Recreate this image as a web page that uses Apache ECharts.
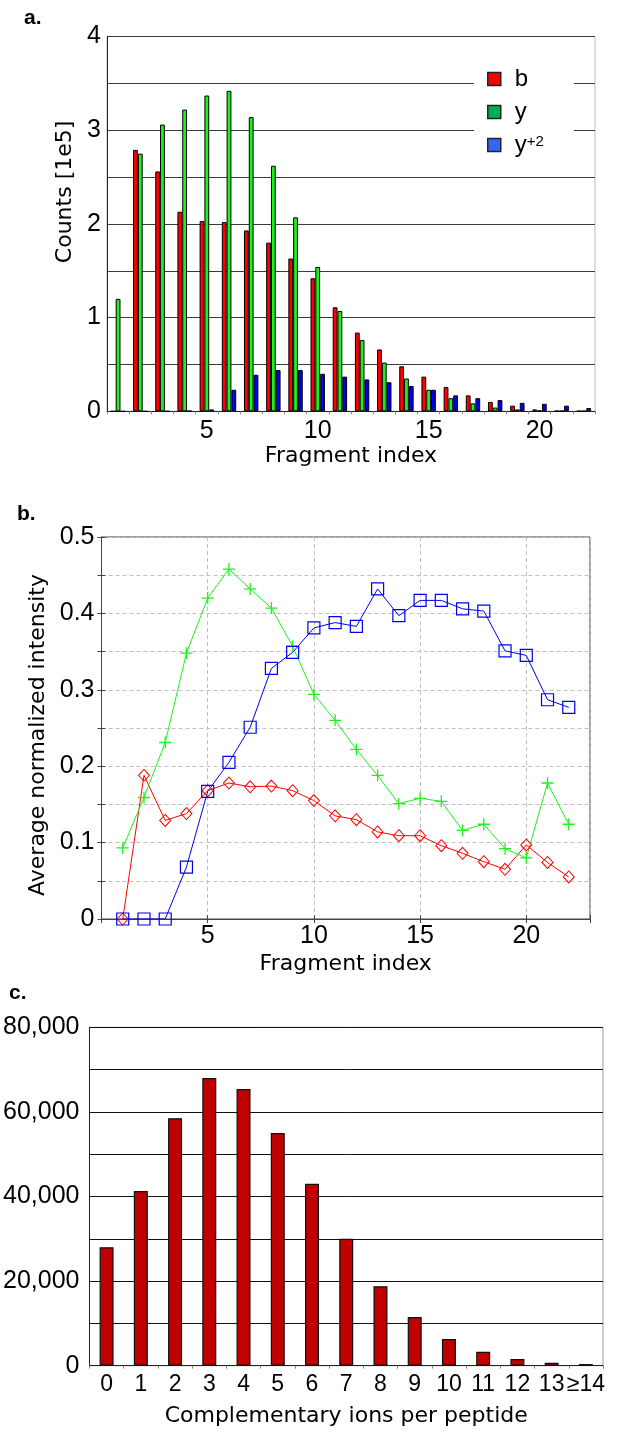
<!DOCTYPE html>
<html>
<head>
<meta charset="utf-8">
<script src="https://cdn.jsdelivr.net/npm/echarts@6/dist/echarts.min.js"></script>
<style>
  html, body { margin: 0; padding: 0; background: #fff; }
  #chart { width: 628px; height: 1433px; }
</style>
</head>
<body>
<div id="chart"></div>
<script>
// panel a: counts per fragment index (x 1e5)
const fragIdx = [1, 2, 3, 4, 5, 6, 7, 8, 9, 10, 11, 12, 13, 14, 15, 16, 17, 18, 19, 20, 21, 22];
const bCounts = [0, 2.79, 2.56, 2.13, 2.03, 2.02, 1.93, 1.80, 1.63, 1.42, 1.11, 0.84, 0.66, 0.48, 0.37, 0.26, 0.17, 0.10, 0.06, 0.02, 0.005, 0.003];
const yCounts = [1.20, 2.75, 3.06, 3.22, 3.37, 3.42, 3.14, 2.62, 2.07, 1.54, 1.07, 0.76, 0.52, 0.35, 0.23, 0.14, 0.085, 0.04, 0.02, 0.01, 0.005, 0.003];
const y2Counts = [0, 0, 0, 0.005, 0.02, 0.23, 0.39, 0.44, 0.44, 0.40, 0.37, 0.34, 0.31, 0.27, 0.23, 0.17, 0.14, 0.12, 0.09, 0.08, 0.06, 0.035];

// panel b: average normalized intensity
const bIntensity = [0, 0.188, 0.129, 0.138, 0.168, 0.178, 0.173, 0.174, 0.168, 0.155, 0.135, 0.130, 0.114, 0.109, 0.109, 0.096, 0.086, 0.075, 0.065, 0.097, 0.074, 0.055];
const yIntensity = [0.093, 0.159, 0.231, 0.348, 0.420, 0.458, 0.432, 0.407, 0.357, 0.294, 0.260, 0.222, 0.188, 0.151, 0.158, 0.154, 0.116, 0.124, 0.092, 0.080, 0.178, 0.124];
const y2Intensity = [0, 0, 0, 0.068, 0.167, 0.205, 0.251, 0.328, 0.349, 0.381, 0.388, 0.383, 0.432, 0.397, 0.417, 0.417, 0.406, 0.403, 0.351, 0.345, 0.287, 0.277];

// panel c: complementary ions per peptide
const compCats = ['0', '1', '2', '3', '4', '5', '6', '7', '8', '9', '10', '11', '12', '13', '≥14'];
const compCounts = [28000, 41300, 58500, 68000, 65400, 55000, 43000, 30000, 18800, 11500, 6300, 3300, 1600, 700, 400];

const FONT = '"Liberation Sans", Arial, sans-serif';
const NAME_FONT = '"DejaVu Sans", sans-serif';
const COLORS = {
  red: '#ff0000',
  green: '#1ff01f',
  blue: '#0000f0',
  legendGreen: '#00b050',
  legendBlue: '#3366ff',
  darkRed: '#c00000',
  grid: '#3a3a3a',
  dash: '#c0c0c0',
};

const chart = echarts.init(document.getElementById('chart'), null, { renderer: 'canvas' });

const pairs = (vals) => fragIdx.map((x, i) => [x, vals[i]]);
const barStyle = (color) => ({ color: color, borderColor: '#000', borderWidth: 1 });
const tickFont = { fontFamily: FONT, fontSize: 25, color: '#000' };
const nameFont = { fontFamily: NAME_FONT, fontSize: 22, color: '#000' };
const panelTitle = { fontFamily: FONT, fontSize: 21, fontWeight: 'bold', color: '#000' };

const option = {
  animation: false,
  backgroundColor: '#fff',
  textStyle: { fontFamily: FONT },
  title: [
    { text: 'a.', left: 19, top: 3, textStyle: panelTitle },
    { text: 'b.', left: 12, top: 499, textStyle: panelTitle },
    { text: 'c.', left: 4, top: 978, textStyle: panelTitle },
  ],
  legend: {
    orient: 'vertical',
    left: 474,
    top: 61,
    padding: [6, 30, 8, 13],
    backgroundColor: '#fff',
    itemWidth: 13,
    itemHeight: 13,
    itemGap: 9,
    icon: 'rect',
    data: [
      { name: 'b', itemStyle: { color: COLORS.red, borderColor: '#222', borderWidth: 1.5 } },
      { name: 'y', itemStyle: { color: COLORS.legendGreen, borderColor: '#222', borderWidth: 1.5 } },
      { name: 'y2', itemStyle: { color: COLORS.legendBlue, borderColor: '#222', borderWidth: 1.5 } },
    ],
    formatter: (name) => (name === 'y2' ? '{base|y}{sup|+2}' : '{base|' + name + '}'),
    textStyle: {
      fontFamily: FONT,
      fontSize: 24,
      color: '#000',
      padding: [0, 0, 0, 9],
      rich: {
        base: { fontFamily: FONT, fontSize: 24, lineHeight: 22, color: '#000' },
        sup: { fontFamily: FONT, fontSize: 15, lineHeight: 18, color: '#000', verticalAlign: 'top' },
      },
    },
  },
  grid: [
    { left: 107, top: 36.5, width: 488, height: 374.8, show: true, borderColor: '#bdbdbd', borderWidth: 1 },
    { left: 101.5, top: 537, width: 488.5, height: 382, show: true, borderColor: '#444', borderWidth: 1 },
    { left: 87, top: 1027.3, width: 516, height: 338.4, show: true, borderColor: '#9a9a9a', borderWidth: 1 },
  ],
  xAxis: [
    {
      gridIndex: 0,
      type: 'category',
      data: fragIdx,
      name: 'Fragment index',
      nameLocation: 'middle',
      nameGap: 34,
      nameTextStyle: nameFont,
      axisLine: { lineStyle: { color: '#222', width: 1 } },
      axisTick: { show: true, length: 3, interval: 0, lineStyle: { color: '#888' } },
      axisLabel: Object.assign({
        interval: 0,
        margin: 7,
        formatter: (v) => (Number(v) % 5 === 0 ? v : ''),
      }, tickFont),
    },
    {
      gridIndex: 1,
      type: 'value',
      min: 0,
      max: 23,
      interval: 5,
      name: 'Fragment index',
      nameLocation: 'middle',
      nameGap: 34,
      nameTextStyle: nameFont,
      axisLine: { onZero: false, lineStyle: { color: '#444' } },
      axisTick: { inside: true, length: 4, lineStyle: { color: '#444' } },
      axisLabel: Object.assign({
        margin: 5,
        formatter: (v) => (v > 0 && v % 5 === 0 ? String(v) : ''),
      }, tickFont),
      splitLine: { show: true, lineStyle: { color: COLORS.dash, type: [4, 3] } },
    },
    {
      // top edge ticks of panel b
      gridIndex: 1,
      type: 'value',
      position: 'top',
      min: 0,
      max: 23,
      interval: 5,
      axisLine: { show: false },
      axisTick: { inside: true, length: 4, lineStyle: { color: '#444' } },
      axisLabel: { show: false },
      splitLine: { show: false },
    },
    {
      gridIndex: 2,
      type: 'category',
      data: compCats,
      name: 'Complementary ions per peptide',
      nameLocation: 'middle',
      nameGap: 40,
      nameTextStyle: nameFont,
      axisLine: { lineStyle: { color: '#222' } },
      axisTick: { show: true, length: 3, lineStyle: { color: '#888' } },
      axisLabel: { interval: 0, margin: 7, fontFamily: FONT, fontSize: 23, color: '#000' },
    },
  ],
  yAxis: [
    {
      gridIndex: 0,
      type: 'value',
      min: 0,
      max: 4,
      interval: 0.5,
      name: 'Counts [1e5]',
      nameLocation: 'middle',
      nameGap: 28,
      nameTextStyle: Object.assign({ padding: [0, 0, 0, 64] }, nameFont),
      axisLine: { show: true, lineStyle: { color: '#222' } },
      axisTick: { show: false },
      axisLabel: Object.assign({
        margin: 6,
        formatter: (v) => (v % 1 === 0 ? String(v) : ''),
      }, tickFont),
      splitLine: { show: true, lineStyle: { color: COLORS.grid, width: 1 } },
    },
    {
      gridIndex: 1,
      type: 'value',
      min: 0,
      max: 0.5,
      interval: 0.05,
      name: 'Average normalized intensity',
      nameLocation: 'middle',
      nameGap: 45,
      nameTextStyle: Object.assign({ padding: [0, 14, 0, 0] }, nameFont),
      axisLine: { show: true, lineStyle: { color: '#444' } },
      axisTick: { show: true, inside: true, length: 4, lineStyle: { color: '#444' } },
      axisLabel: Object.assign({
        margin: 7,
        formatter: (v) => {
          const k = Math.round(v * 100);
          return k % 10 === 0 ? (k === 0 ? '0' : (k / 100).toFixed(1)) : '';
        },
      }, tickFont),
      splitLine: { show: true, lineStyle: { color: COLORS.dash, type: [4, 3] } },
    },
    {
      // right edge ticks of panel b
      gridIndex: 1,
      type: 'value',
      position: 'right',
      min: 0,
      max: 0.5,
      interval: 0.05,
      axisLine: { show: false },
      axisTick: { show: true, inside: true, length: 4, lineStyle: { color: '#444' } },
      axisLabel: { show: false },
      splitLine: { show: false },
    },
    {
      gridIndex: 2,
      type: 'value',
      min: 0,
      max: 80000,
      interval: 10000,
      axisLine: { show: true, lineStyle: { color: '#222' } },
      axisTick: { show: false },
      axisLabel: Object.assign({
        margin: 10,
        formatter: (v) => (v % 20000 === 0 ? v.toLocaleString('en-US') : ''),
      }, tickFont),
      splitLine: { show: true, lineStyle: { color: '#111', width: 1 } },
    },
  ],
  series: [
    // panel a
    { name: 'b', type: 'bar', xAxisIndex: 0, yAxisIndex: 0, data: bCounts, barWidth: 4.8, barGap: '0%', itemStyle: barStyle(COLORS.red) },
    { name: 'y', type: 'bar', xAxisIndex: 0, yAxisIndex: 0, data: yCounts, barWidth: 4.8, barGap: '0%', itemStyle: barStyle(COLORS.green) },
    { name: 'y2', type: 'bar', xAxisIndex: 0, yAxisIndex: 0, data: y2Counts, barWidth: 4.8, barGap: '0%', itemStyle: barStyle(COLORS.blue) },

    // panel b
    {
      name: 'b-int', type: 'line', xAxisIndex: 1, yAxisIndex: 1, data: pairs(bIntensity),
      symbol: 'diamond', symbolSize: [11, 12],
      lineStyle: { color: COLORS.red, width: 1 },
      itemStyle: { color: 'rgba(0,0,0,0)', borderColor: COLORS.red, borderWidth: 1 },
    },
    {
      name: 'y-int', type: 'line', xAxisIndex: 1, yAxisIndex: 1, data: pairs(yIntensity),
      symbol: 'path://M5,0 L5,10 M0,5 L10,5', symbolSize: 12,
      lineStyle: { color: COLORS.green, width: 1 },
      itemStyle: { color: 'rgba(0,0,0,0)', borderColor: COLORS.green, borderWidth: 1.3 },
    },
    {
      name: 'y2-int', type: 'line', xAxisIndex: 1, yAxisIndex: 1, data: pairs(y2Intensity),
      symbol: 'rect', symbolSize: 12,
      lineStyle: { color: COLORS.blue, width: 1 },
      itemStyle: { color: 'rgba(0,0,0,0)', borderColor: COLORS.blue, borderWidth: 1.2 },
    },

    // panel c
    {
      name: 'comp', type: 'bar', xAxisIndex: 3, yAxisIndex: 3, data: compCounts,
      barWidth: 14, itemStyle: { color: COLORS.darkRed, borderColor: '#111', borderWidth: 1.2 },
    },
  ],
};

chart.setOption(option);
</script>
</body>
</html>
